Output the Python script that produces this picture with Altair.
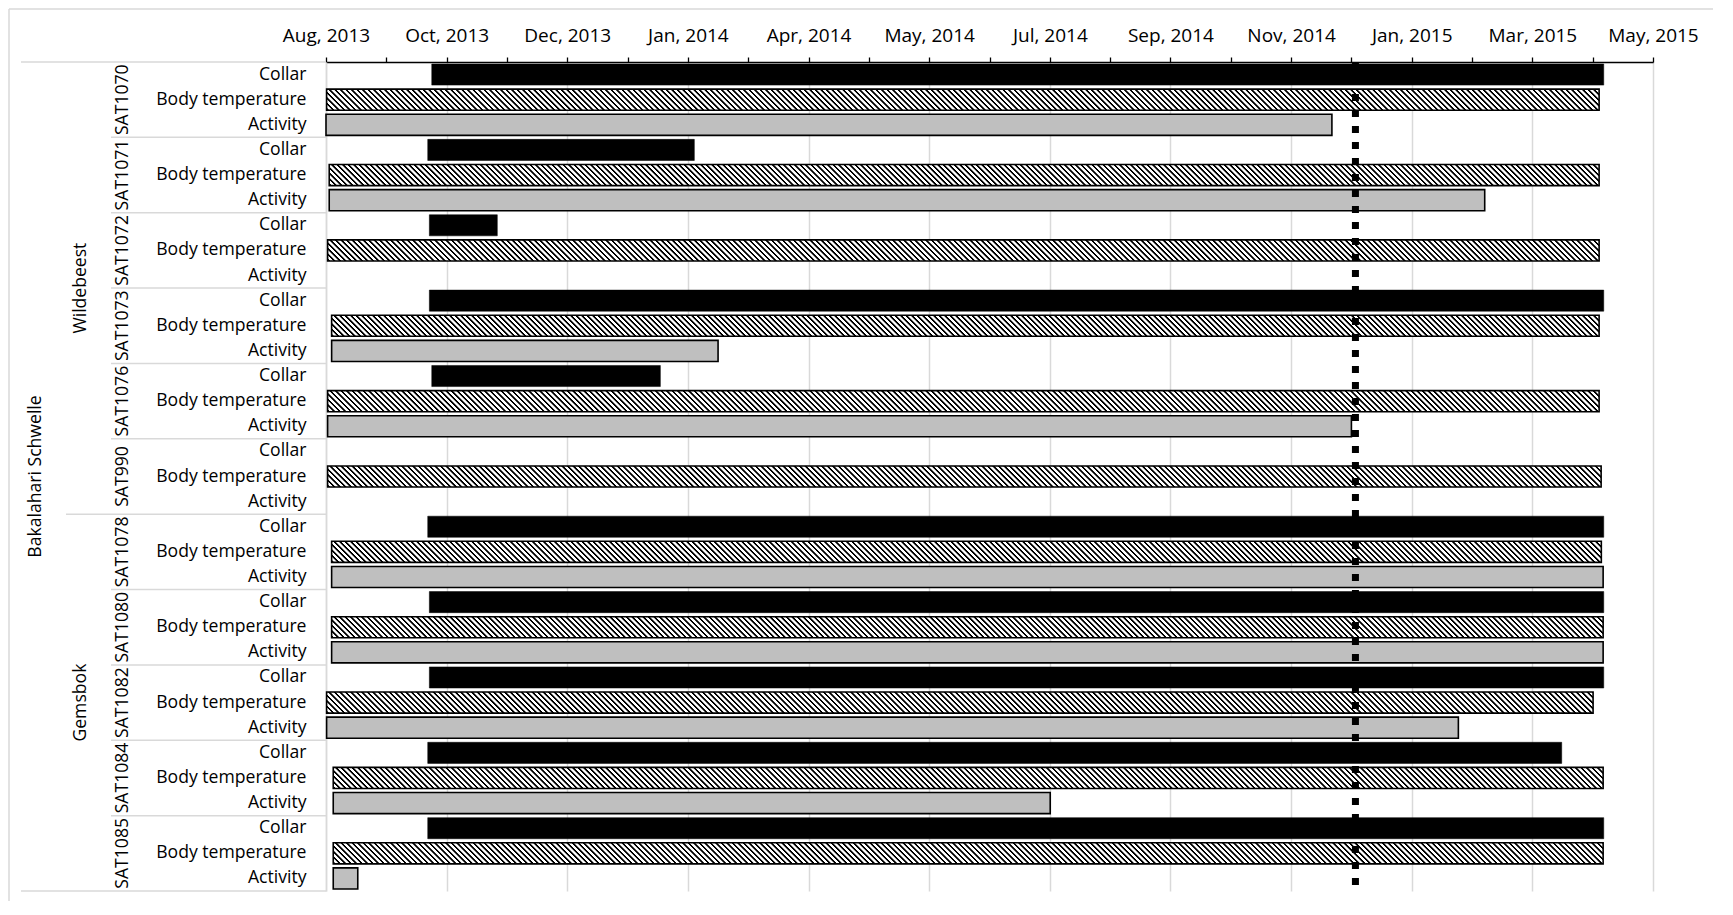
import math
import altair as alt
import pandas as pd

# ---------------- data ----------------
site = "Bakalahari Schwelle"
collars = ["SAT1070", "SAT1071", "SAT1072", "SAT1073", "SAT1076", "SAT990",
           "SAT1078", "SAT1080", "SAT1082", "SAT1084", "SAT1085"]
collar_species = ["Wildebeest"] * 6 + ["Gemsbok"] * 5
sensors = ["Collar", "Body temperature", "Activity"]

# day offsets from the first axis tick (one labelled tick every 60 days)
collar_start = [52.6, 50.6, 51.4, 51.4, 52.6, None, 50.6, 51.4, 51.4, 50.6, 50.6]
collar_end = [635.5, 183.2, 85.2, 635.5, 166.3, None, 635.5, 635.5, 635.5, 614.6, 635.5]
body_start = [0.3, 1.6, 0.8, 2.8, 0.8, 0.8, 2.8, 2.8, 0.3, 3.6, 3.6]
body_end = [633.2, 633.2, 633.2, 633.2, 633.2, 634.2, 634.3, 635.2, 630.2, 635.2, 635.2]
activity_start = [0.0, 1.6, None, 2.8, 0.8, None, 2.8, 2.8, 0.3, 3.6, 3.6]
activity_end = [500.3, 576.3, None, 195.0, 510.0, None, 635.2, 635.2, 563.2, 360.2, 15.8]

tick_labels = ["Aug, 2013", "Oct, 2013", "Dec, 2013", "Jan, 2014", "Apr, 2014", "May, 2014",
               "Jul, 2014", "Sep, 2014", "Nov, 2014", "Jan, 2015", "Mar, 2015", "May, 2015"]
tick_step = 60
marker_day = [512]

# ---------------- tables ----------------
starts = {"Collar": collar_start, "Body temperature": body_start, "Activity": activity_start}
ends = {"Collar": collar_end, "Body temperature": body_end, "Activity": activity_end}
rows = []
for i, c in enumerate(collars):
    for s in sensors:
        rows.append(dict(site=site, species=collar_species[i], collar=c, sensor=s,
                         key=f"{c}|{s}", start=starts[s][i], end=ends[s][i]))
df = pd.DataFrame(rows)
keys = df["key"].tolist()
bars = df.dropna(subset=["start"])

# ---------------- styling ----------------
W, H = 1327, 829
FONT = "Open Sans"
FS = 17.6
FS_TICK = 19
GRID = "#d9d9d9"
BAND = 0.84

x_max = tick_step * (len(tick_labels) - 1)
label_arr = "[" + ",".join(f"'{t}'" for t in tick_labels) + "]"
x_axis = alt.Axis(
    orient="top",
    values=list(range(0, x_max + 1, tick_step // 2)),
    labelExpr=f"datum.value % {tick_step} === 0 ? {label_arr}[datum.value / {tick_step}] : ''",
    grid=True, gridColor=GRID, gridWidth=1.5,
    gridOpacity={"condition": {"test": f"datum.value % {tick_step} === 0", "value": 1}, "value": 0},
    domainColor="black", domainWidth=1.3, tickColor="black", tickWidth=1.3, tickSize=5,
    labelPadding=12, labelFont=FONT, labelFontSize=FS_TICK, labelColor="black",
    labelFlush=False, labelOverlap=False, labelBound=False, title=None,
)
x_scale = alt.Scale(domain=[0, x_max], nice=False, zero=False)


def xenc(field):
    return alt.X(f"{field}:Q", scale=x_scale, axis=x_axis, title=None)


y_scale = alt.Scale(domain=keys, paddingInner=0, paddingOuter=0)
y_axis = alt.Axis(
    labelExpr="split(datum.value, '|')[1]", ticks=False, tickSize=0,
    domainColor=GRID, domainWidth=1.5, labelPadding=20, labelFont=FONT,
    labelFontSize=FS, labelColor="black", grid=False, title=None, labelLimit=400,
)


def yenc(bp=None):
    kw = dict(scale=y_scale, axis=y_axis, title=None)
    if bp is not None:
        kw["bandPosition"] = bp
    return alt.Y("key:N", **kw)


# diagonal hatch ("\" stripes) as a gradient with short anti-aliased ramps
bar_h = H / len(keys) * BAND
bar_w = 1268.0
k = 1.03
period = 5.5
frac = 0.42
ramp = 0.7  # px
px = 1.0 / (k * bar_w)
step = period * px
stops = []
n = math.ceil(1 / step)
for i in range(n):
    t0 = i * step
    if t0 >= 1:
        break
    a = t0 + ramp * px
    b = t0 + frac * step
    c = b + ramp * px
    d = t0 + step
    for off, col in ((t0, "white"), (a, "black"), (b, "black"), (c, "white"), (d, "white")):
        stops.append({"offset": min(off, 1.0), "color": col})
hatch = {"gradient": "linear", "x1": 0, "y1": 1, "x2": k, "y2": 1 - k * bar_h / bar_w,
         "stops": stops}

band_size = {"band": BAND}

collar_bars = alt.Chart(bars[bars.sensor == "Collar"]).mark_bar(
    fill="black", stroke="black", strokeWidth=0.5, height=band_size
).encode(x=xenc("start"), x2="end:Q", y=yenc())

body_bars = alt.Chart(bars[bars.sensor == "Body temperature"]).mark_bar(
    fill=hatch, stroke="black", strokeWidth=1.6, height=band_size
).encode(x=xenc("start"), x2="end:Q", y=yenc())

act_bars = alt.Chart(bars[bars.sensor == "Activity"]).mark_bar(
    fill="#bfbfbf", stroke="black", strokeWidth=1.6, height=band_size
).encode(x=xenc("start"), x2="end:Q", y=yenc())

marker = alt.Chart(pd.DataFrame({"day": marker_day})).mark_rule(
    color="black", strokeWidth=7, strokeDash=[7, 9]
).encode(x=xenc("day"))

# ---------------- multi-level category labels ----------------
txt = dict(font=FONT, fontSize=FS, color="black", align="center", baseline="middle", angle=270)

collar_text = alt.Chart(df[df.sensor == "Body temperature"]).mark_text(**txt).encode(
    x=alt.value(-203), y=yenc(), text="collar:N")

species_layers = []
for sp in dict.fromkeys(collar_species):
    sub = df[df.species == sp].reset_index(drop=True)
    m = len(sub)
    bp = 0 if m % 2 == 0 else 0.5
    species_layers.append(
        alt.Chart(sub.iloc[[m // 2]]).mark_text(**txt).encode(
            x=alt.value(-245), y=yenc(bp), text="species:N"))

site_sub = df.iloc[[len(df) // 2]]
site_text = alt.Chart(site_sub).mark_text(**txt).encode(
    x=alt.value(-290), y=yenc(0 if len(df) % 2 == 0 else 0.5), text="site:N")

# separator lines of the category axis
first_of_collar = df.groupby("collar", sort=False).head(1)
first_of_species = df.groupby("species", sort=False).head(1)
collar_sep = first_of_collar[~first_of_collar.key.isin(first_of_species.key)]
species_sep = first_of_species.iloc[1:]

sep = dict(color=GRID, strokeWidth=1.5)
collar_lines = alt.Chart(collar_sep).mark_rule(**sep).encode(
    y=yenc(0), x=alt.value(-215), x2=alt.value(0))
species_lines = alt.Chart(species_sep).mark_rule(**sep).encode(
    y=yenc(0), x=alt.value(-260), x2=alt.value(0))
top_line = alt.Chart(df.iloc[[0]]).mark_rule(**sep).encode(
    y=yenc(0), x=alt.value(-305), x2=alt.value(0))
bottom_line = alt.Chart(df.iloc[[-1]]).mark_rule(**sep).encode(
    y=yenc(1), x=alt.value(-305), x2=alt.value(0))

# outer chart frame (left and top edges)
frame_df = pd.DataFrame({"a": [0]})
frame_left = alt.Chart(frame_df).mark_rule(color=GRID, strokeWidth=1.5).encode(
    x=alt.value(-317), y=alt.value(-53), y2=alt.value(H + 12))
frame_top = alt.Chart(frame_df).mark_rule(color=GRID, strokeWidth=1.5).encode(
    x=alt.value(-317), x2=alt.value(W + 60), y=alt.value(-53))

chart = alt.layer(
    frame_left, frame_top,
    collar_lines, species_lines, top_line, bottom_line,
    collar_bars, body_bars, act_bars, marker,
    collar_text, *species_layers, site_text,
).properties(
    width=W, height=H,
    padding={"left": 318, "top": 54, "right": 60, "bottom": 10},
    autosize=alt.AutoSizeParams(type="none"),
).configure_view(stroke=None)

chart.save("out.html", embed_options={"renderer": "svg", "actions": False})
